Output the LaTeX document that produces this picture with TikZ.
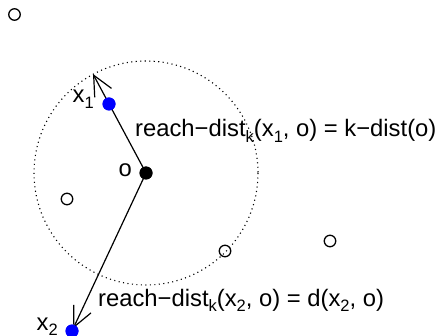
\documentclass[tikz,border=0pt]{standalone}
\usepackage{fontspec}
\setmainfont{Liberation Sans}
\usetikzlibrary{arrows.meta}
\newcommand{\lowidx}[1]{\raisebox{-0.4ex}{\fontsize{16.5}{16.5}\selectfont #1}}

\begin{document}
\begin{tikzpicture}[x=1pt, y=-1pt,
    datapt/.style={circle, draw, line width=1.3pt, inner sep=0pt, minimum size=11.5pt},
    bluept/.style={circle, fill=blue, inner sep=0pt, minimum size=13pt},
    centerpt/.style={circle, fill=black, inner sep=0pt, minimum size=13pt},
    lbl/.style={font=\fontsize{23.8}{28}\selectfont, inner sep=0pt},
    reach/.style={line width=1.2pt, -{Straight Barb[length=20pt, width=19pt, line width=1.2pt]}}]
    \useasboundingbox (0,0) rectangle (438,336);

    % k-distance neighbourhood of o
    \draw[line width=1.1pt, dash pattern=on 1.1pt off 3.4pt] (146,173) circle (112);

    % Other objects
    \node[datapt] (p1) at (14.5,14.5) {};
    \node[datapt] (p2) at (67,199) {};
    \node[datapt] (p3) at (225,251) {};
    \node[datapt] (p4) at (330,241) {};

    % o and the two objects x1, x2
    \node[centerpt] (o) at (146,173) {};
    \node[bluept] (x1) at (109,104) {};
    \node[bluept] (x2) at (72,331) {};
    \coordinate (tip1) at (93,74);

    % Reachability distances
    \draw[reach] (o.center) -- (tip1);
    \draw[reach, shorten >=3pt] (o.center) -- (x2.center);
    \node[bluept] at (x1) {};
    \node[bluept] at (x2) {};
    \node[centerpt] at (o) {};

    % Labels
    \node[lbl, anchor=base east] (x1lbl) at (94,103) {x\lowidx{1}};
    \node[lbl, anchor=base east] (olbl) at (132,177) {o};
    \node[lbl, anchor=base east] (x2lbl) at (58,330) {x\lowidx{2}};
    \node[lbl, anchor=base west] (r1) at (135,137)
        {reach−dist\lowidx{k}(x\lowidx{1}, o) = k−dist(o)};
    \node[lbl, anchor=base west] (r2) at (98,306)
        {reach−dist\lowidx{k}(x\lowidx{2}, o) = d(x\lowidx{2}, o)};
\end{tikzpicture}
\end{document}
